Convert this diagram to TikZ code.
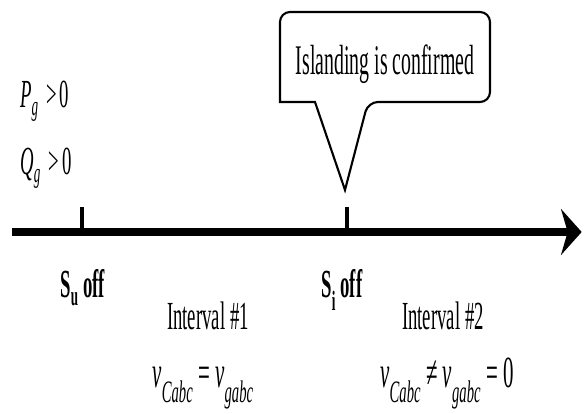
\documentclass[tikz,border=0pt]{standalone}
\usepackage{fontspec}
\setmainfont{Liberation Serif}
\usepackage{tikz}
\usetikzlibrary{arrows.meta}

\newcommand{\narrowtxt}[1]{\scalebox{0.47}[1]{#1}}
\newcommand{\lowsub}[1]{\raisebox{-0.15ex}{\textsubscript{#1}}}
\tikzset{
	lbl/.style={inner sep=0pt, font=\fontsize{34}{40}\selectfont},
	eqn/.style={inner sep=0pt, font=\fontsize{38}{44}\selectfont},
	axis/.style={line width=0.22cm, -{Stealth[length=0.62cm, width=1.38cm, inset=0.2cm]}},
	tick/.style={line width=2.6pt},
	bubble/.style={line width=1.8pt, line join=miter}
}

\begin{document}
\begin{tikzpicture}
	\useasboundingbox (0, 0) rectangle (17.58, 12.42);

	\coordinate (O) at (0.36, 5.46);
	\coordinate (E) at (17.45, 5.46);
	\draw [axis] (O) -- (E);

	\coordinate (T1) at (2.46, 5.46);
	\coordinate (T1top) at (2.46, 6.2);
	\coordinate (T2) at (10.41, 5.46);
	\coordinate (T2top) at (10.41, 6.2);
	\draw [tick] (T1) -- (T1top);
	\draw [tick] (T2) -- (T2top);

	\coordinate (tip) at (10.35, 6.72);
	\draw [bubble] (tip) -- (9.45, 9.36) -- (8.4, 9.36) [rounded corners=0.3cm] -- (8.4, 12.06) -- (14.7, 12.06) -- (14.7, 9.36) -- (11.04, 9.36) [sharp corners] -- cycle;
	\node (msg) at (11.55, 10.17) [lbl, anchor=base, font=\fontsize{36}{42}\selectfont] {\narrowtxt{Islanding is confirmed}};

	\node (pg) at (0.6, 9.18) [lbl, anchor=base west] {\narrowtxt{\textit{P}\lowsub{\textit{g}} \,>\,0}};
	\node (qg) at (0.6, 7.17) [lbl, anchor=base west] {\narrowtxt{\textit{Q}\lowsub{\textit{g}} \,>\,0}};

	\node (su) at (2.48, 3.48) [lbl, anchor=base] {\narrowtxt{\bfseries S\lowsub{u} off}};
	\node (si) at (10.26, 3.48) [lbl, anchor=base] {\narrowtxt{\bfseries S\lowsub{i} off}};

	\node (int1) at (6.24, 2.52) [lbl, anchor=base] {\narrowtxt{Interval \#1}};
	\node (int2) at (13.29, 2.52) [lbl, anchor=base] {\narrowtxt{Interval \#2}};

	\node (eq1) at (6.09, 0.78) [eqn, anchor=base] {\narrowtxt{\textit{v}\lowsub{\textit{Cabc}} = \textit{v}\lowsub{\textit{gabc}}}};
	\node (eq2) at (13.41, 0.78) [eqn, anchor=base] {\narrowtxt{\textit{v}\lowsub{\textit{Cabc}} ≠ \textit{v}\lowsub{\textit{gabc}} = 0}};
\end{tikzpicture}
\end{document}
